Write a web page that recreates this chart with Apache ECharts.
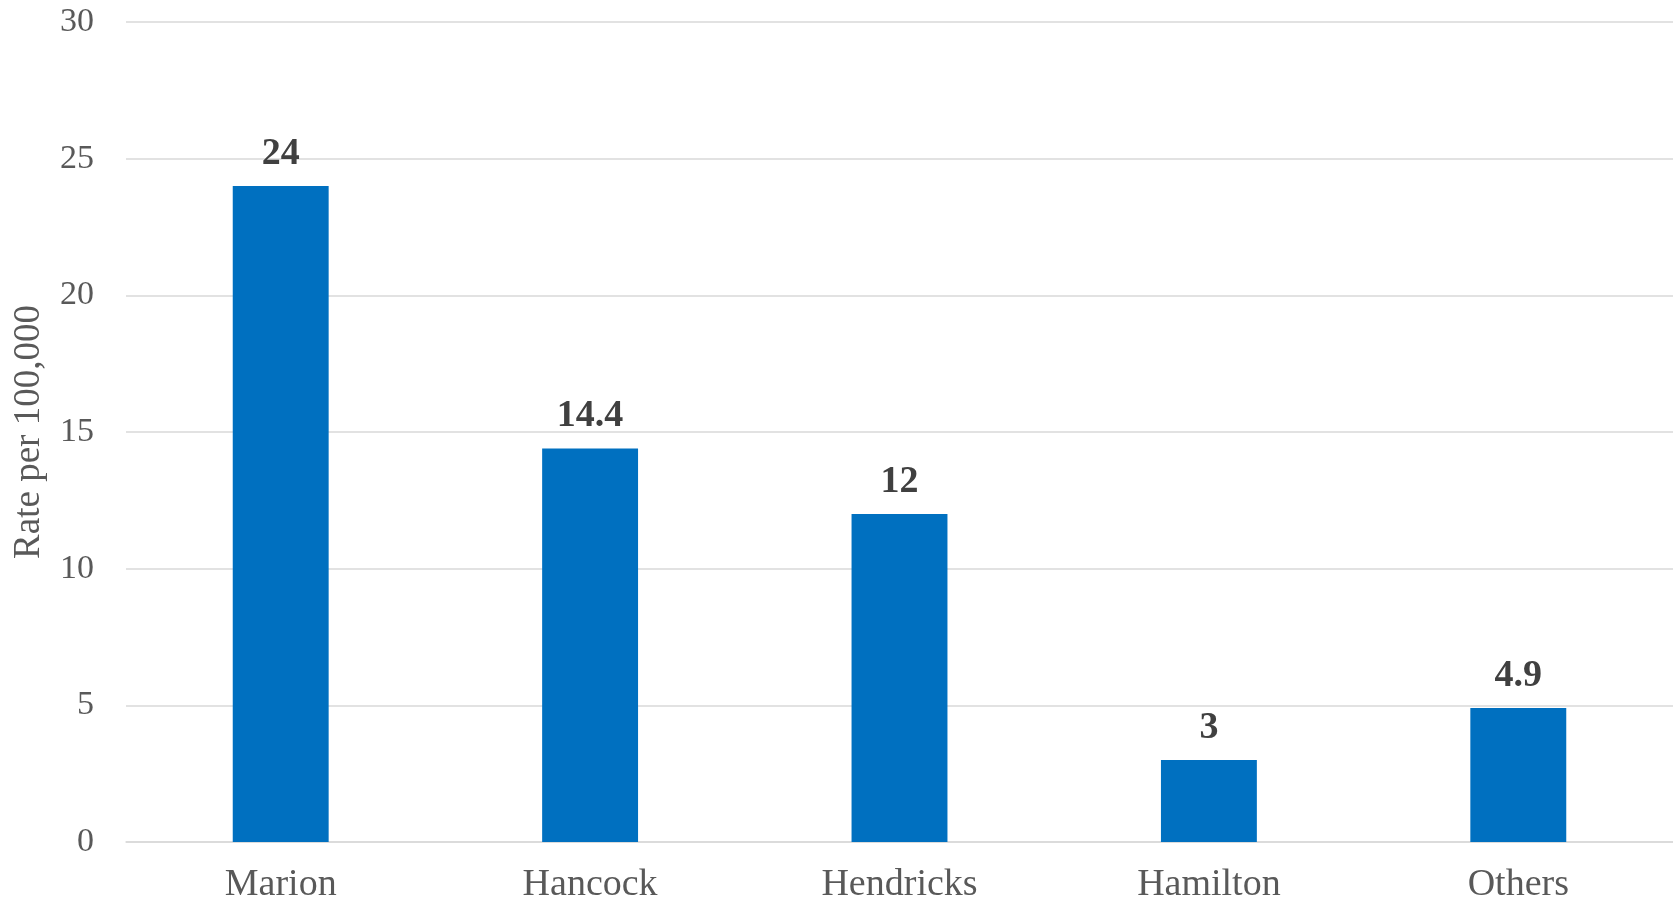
<!DOCTYPE html>
<html>
<head>
<meta charset="utf-8">
<script src="https://cdn.jsdelivr.net/npm/echarts@6/dist/echarts.min.js"></script>
<style>
  html, body { margin: 0; padding: 0; background: #fff; }
  #chart { width: 1673px; height: 900px; }
</style>
</head>
<body>
<div id="chart"></div>
<script>
// Rate per 100,000 by county
const counties = ['Marion', 'Hancock', 'Hendricks', 'Hamilton', 'Others'];
const rates = [24, 14.4, 12, 3, 4.9];
const yTicks = [0, 5, 10, 15, 20, 25, 30];

const serif = '"Liberation Serif", "DejaVu Serif", serif';
const chart = echarts.init(document.getElementById('chart'));

chart.setOption({
  animation: false,
  grid: { left: 126, right: 0, top: 22, bottom: 58, containLabel: false, outerBoundsMode: 'none' },
  xAxis: {
    type: 'category',
    data: counties,
    axisLine: { lineStyle: { color: '#d9d9d9', width: 1.5 } },
    axisTick: { show: false },
    axisLabel: { color: '#595959', fontFamily: serif, fontSize: 38, margin: 24 }
  },
  yAxis: {
    type: 'value',
    min: yTicks[0],
    max: yTicks[yTicks.length - 1],
    interval: 5,
    name: 'Rate per 100,000',
    nameLocation: 'middle',
    nameGap: 78,
    nameTextStyle: { color: '#595959', fontFamily: serif, fontSize: 37 },
    axisLine: { show: false },
    axisTick: { show: false },
    splitLine: { lineStyle: { color: '#d9d9d9', width: 1.5 } },
    axisLabel: { color: '#595959', fontFamily: serif, fontSize: 34, margin: 32 }
  },
  series: [{
    type: 'bar',
    data: rates,
    barWidth: '31%',
    itemStyle: { color: '#0070C0' },
    label: {
      show: true,
      position: 'top',
      distance: 13,
      color: '#404040',
      fontFamily: serif,
      fontWeight: 'bold',
      fontSize: 38
    }
  }]
});
</script>
</body>
</html>
